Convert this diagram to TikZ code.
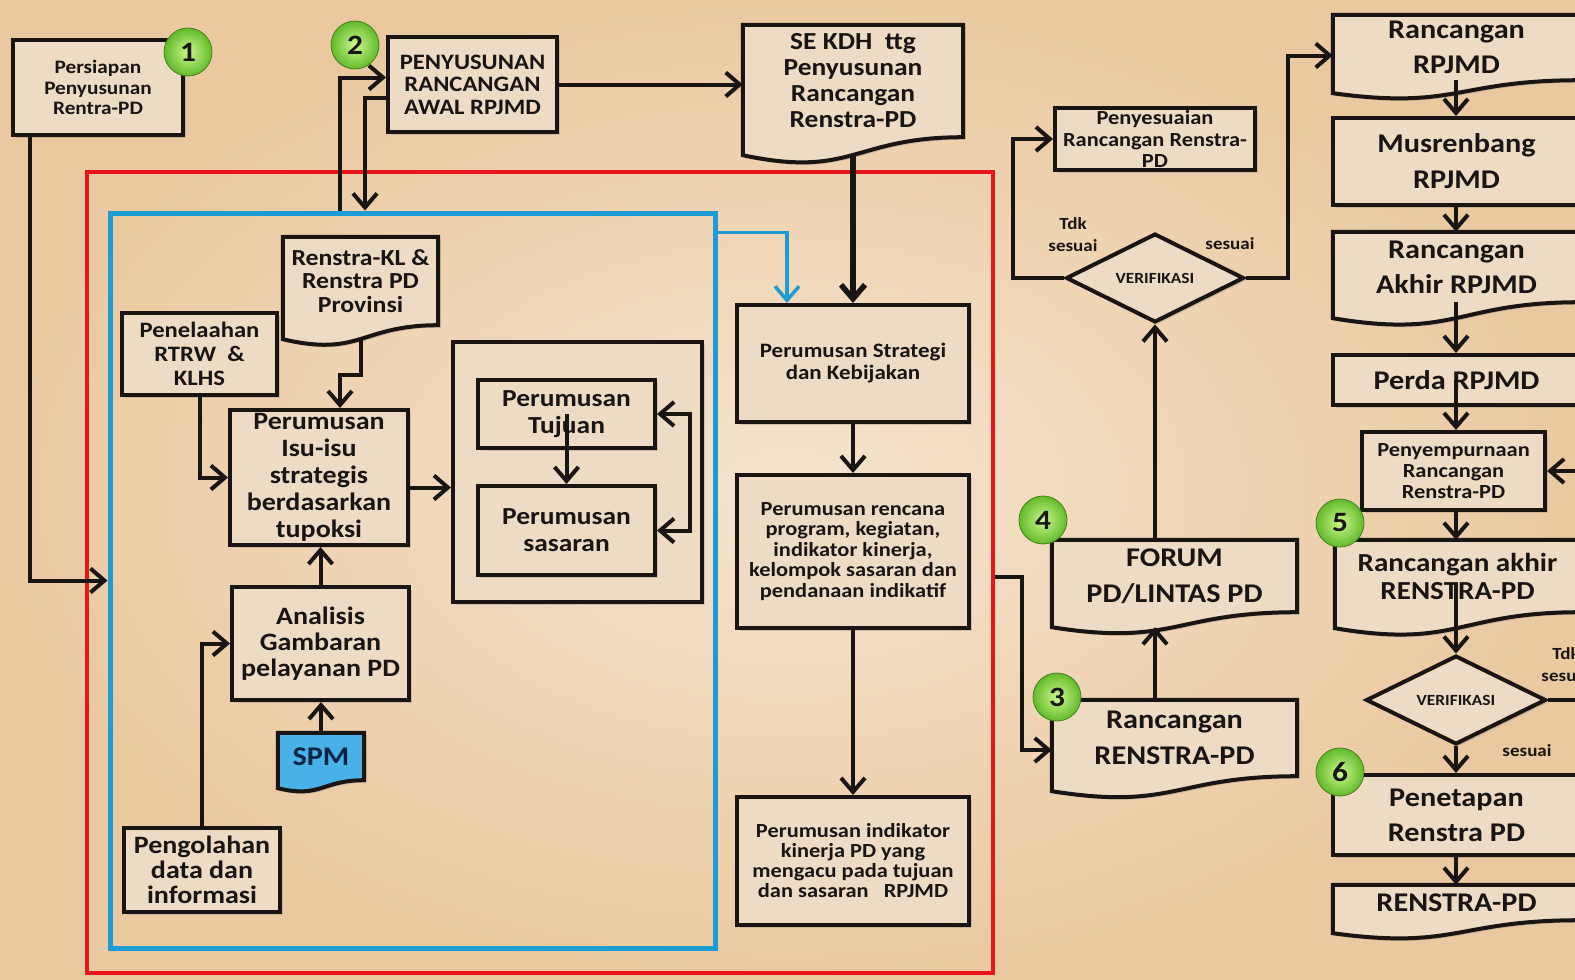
\documentclass[tikz,border=0pt]{standalone}
\usepackage{fontspec}
\setmainfont{Carlito}[FakeStretch=1.12]
\usetikzlibrary{arrows.meta,calc,shapes.geometric,shadows}
\pgfdeclarelayer{bgl}
\pgfdeclarelayer{docl}
\pgfsetlayers{bgl,docl,main}
\definecolor{bgin}{RGB}{246,228,206}
\definecolor{bgout}{RGB}{234,201,160}
\definecolor{boxfill}{RGB}{238,219,195}
\definecolor{ink}{RGB}{24,21,19}
\definecolor{redframe}{RGB}{232,22,26}
\definecolor{blueframe}{RGB}{28,156,210}
\definecolor{spmfill}{RGB}{72,178,232}
\definecolor{spmtext}{RGB}{12,36,70}
\definecolor{gin}{RGB}{205,248,140}
\definecolor{gout}{RGB}{98,186,42}
\newcommand\fs[2]{\fontsize{#1}{#2}\selectfont}
\newcommand\docshape[3][boxfill]{%
  \path[dline, fill=#1] (#2.north west) -- (#2.north east) -- (#2.south east)
    .. controls (#2.south) and ($(#2.south)+(0,2.3*#3)$) .. ($(#2.south west)+(0,#3)$) -- cycle;
  \coordinate (#2-b) at ($(#2.south)+(0,#3)$);}
\tikzset{
  shad/.style={drop shadow={shadow xshift=2.5pt,shadow yshift=-2.5pt,opacity=.3}},
  rbox/.style={rectangle, draw=ink, line width=4pt, fill=boxfill, inner sep=0pt, align=center, text=ink, shad},
  dnode/.style={rectangle, inner sep=0pt, align=center, text=ink},
  dline/.style={draw=ink, line width=4pt, shad},
  dia/.style={diamond, draw=ink, line width=4pt, fill=boxfill, inner sep=0pt, text=ink, font=\bfseries\fs{15.5}{17}, shad},
  tip/.tip={Straight Barb[length=14pt,width=24pt]},
  arr/.style={draw=ink, line width=4pt, -tip},
  arrblue/.style={draw=blueframe, line width=3.5pt, -tip},
  plainline/.style={draw=ink, line width=4pt},
  num/.style={circle, minimum size=48pt, inner sep=0pt, inner color=gin, outer color=gout, draw=gout!70!black, line width=0.8pt, text=ink, font=\bfseries\fs{28}{28}},
  lbl/.style={align=center, text=ink, font=\bfseries\fs{17}{22}},
}
\begin{document}
\begin{tikzpicture}[x=1pt,y=-1pt]
\useasboundingbox (0,0) rectangle (1575,980);
\begin{pgfonlayer}{bgl}
\shade[inner color=bgin, outer color=bgout] (-5,-5) rectangle (1580,985);
\end{pgfonlayer}
\clip (0,0) rectangle (1575,980);
% bend coordinates
\coordinate (x340) at (340,0);
\coordinate (x365) at (365,0);
\coordinate (x787) at (787,0);
\coordinate (x690) at (690,0);
\coordinate (x1013) at (1013,0);
\coordinate (x1155) at (1155,0);
\coordinate (x1288) at (1288,0);
\coordinate (x1600) at (1600,0);
\coordinate (xc) at (1456,0);
\coordinate (y375) at (0,375);
\coordinate (j1) at (1022,577);
% frames
\node[draw=redframe, line width=3.5pt, minimum width=906pt, minimum height=801pt, inner sep=0pt] (red) at (540,572.5) {};
\node[draw=blueframe, line width=5pt, minimum width=605pt, minimum height=735pt, inner sep=0pt] (blue) at (412.5,580.5) {};
% rectangles
\node[rbox, minimum width=170pt, minimum height=95pt, font=\bfseries\fs{19}{20.5}] (box1) at (98,87.5) {Persiapan\\Penyusunan\\Rentra-PD};
\node[rbox, minimum width=169pt, minimum height=95pt, font=\bfseries\fs{22}{22.5}] (pen) at (472.5,84.5) {PENYUSUNAN\\RANCANGAN\\AWAL RPJMD};
\node[rbox, minimum width=232pt, minimum height=117pt, font=\bfseries\fs{20.5}{22}] (strat) at (853,363.5) {Perumusan Strategi\\dan Kebijakan};
\node[rbox, minimum width=232pt, minimum height=153pt, font=\bfseries\fs{20}{20.5}] (renc) at (853,551.5) {Perumusan rencana\\program, kegiatan,\\indikator kinerja,\\kelompok sasaran dan\\pendanaan indikatif};
\node[rbox, minimum width=232pt, minimum height=128pt, font=\bfseries\fs{20}{20}] (indik) at (853,861) {Perumusan indikator\\kinerja PD yang\\mengacu pada tujuan\\dan sasaran\ \ \ RPJMD};
\node[rbox, minimum width=155pt, minimum height=82pt, font=\bfseries\fs{22}{24}] (penel) at (199.5,354) {Penelaahan\\RTRW\ \ \&\\KLHS};
\node[rbox, minimum width=178pt, minimum height=135pt, font=\bfseries\fs{25}{27}] (isu) at (319,477.5) {Perumusan\\Isu-isu\\strategis\\berdasarkan\\tupoksi};
\node[rbox, minimum width=249pt, minimum height=260pt] (big) at (577.5,472) {};
\node[rbox, minimum width=177pt, minimum height=68pt, font=\bfseries\fs{24.5}{27}] (tuj) at (566.5,414) {Perumusan\\Tujuan};
\node[rbox, minimum width=177pt, minimum height=89pt, font=\bfseries\fs{24.5}{27}] (sas) at (566.5,530.5) {Perumusan\\sasaran};
\node[rbox, minimum width=177pt, minimum height=113pt, font=\bfseries\fs{25}{26}] (anal) at (320.5,643.5) {Analisis\\Gambaran\\pelayanan PD};
\node[rbox, minimum width=156pt, minimum height=84pt, font=\bfseries\fs{25}{25}] (pengo) at (202,870) {Pengolahan\\data dan\\informasi};
\node[rbox, minimum width=200pt, minimum height=62pt, font=\bfseries\fs{20}{21.5}] (penyes) at (1155,139) {Penyesuaian\\Rancangan Renstra-\\PD};
\node[rbox, minimum width=247pt, minimum height=87pt, font=\bfseries\fs{27}{36}] (musren) at (1456.5,161.5) {Musrenbang\\RPJMD};
\node[rbox, minimum width=247pt, minimum height=50pt, font=\bfseries\fs{27}{30}] (perda) at (1456.5,380) {Perda RPJMD};
\node[rbox, minimum width=183pt, minimum height=78pt, font=\bfseries\fs{20}{21}] (penyem) at (1453.5,471) {Penyempurnaan\\Rancangan\\Renstra-PD};
\node[rbox, minimum width=247pt, minimum height=80pt, font=\bfseries\fs{27}{35}] (penet) at (1456.5,815) {Penetapan\\Renstra PD};
% document-shaped nodes (text only, shape drawn on layer)
\node[dnode, minimum width=220pt, minimum height=112pt, font=\bfseries\fs{24.5}{26}] (se) at (853,81) {SE KDH\ \ ttg\\Penyusunan\\Rancangan\\Renstra-PD};
\node[dnode, minimum width=155pt, minimum height=88pt, font=\bfseries\fs{23}{23.5}] (renkl) at (360.5,281) {Renstra-KL \&\\Renstra PD\\Provinsi};
\node[dnode, minimum width=86pt, minimum height=47pt, font=\bfseries\fs{27}{27}, text=spmtext] (spm) at (321,756.5) {SPM};
\node[dnode, minimum width=245pt, minimum height=72pt, font=\bfseries\fs{27}{36}] (forum) at (1174.5,576) {FORUM\\PD/LINTAS PD};
\node[dnode, minimum width=245pt, minimum height=76pt, font=\bfseries\fs{27}{36}] (rrenstra) at (1174.5,738) {Rancangan\\RENSTRA-PD};
\node[dnode, minimum width=247pt, minimum height=65pt, font=\bfseries\fs{27}{35}] (rrpjmd) at (1456.5,47.5) {Rancangan\\RPJMD};
\node[dnode, minimum width=247pt, minimum height=70pt, font=\bfseries\fs{27}{35}] (rakhir) at (1456.5,267) {Rancangan\\Akhir RPJMD};
\node[dnode, minimum width=245pt, minimum height=72pt, font=\bfseries\fs{26}{28}] (rakrenstra) at (1457.5,576) {Rancangan akhir\\RENSTRA-PD};
\node[dnode, minimum width=247pt, minimum height=35pt, font=\bfseries\fs{27}{30}] (renstrapd) at (1456.5,902.5) {RENSTRA-PD};
\begin{pgfonlayer}{docl}
\docshape{se}{18}
\docshape{renkl}{14}
\docshape[spmfill]{spm}{8}
\docshape{forum}{15}
\docshape{rrenstra}{15}
\docshape{rrpjmd}{13}
\docshape{rakhir}{16}
\docshape{rakrenstra}{16}
\docshape{renstrapd}{13}
\end{pgfonlayer}
% diamonds
\node[dia, minimum width=178pt, minimum height=80pt] (ver1) at (1155,278) {VERIFIKASI};
\node[dia, minimum width=180pt, minimum height=80pt] (ver2) at (1456,700) {VERIFIKASI};
% labels
\node[lbl] (tdk1) at (1073,235) {Tdk\\sesuai};
\node[lbl] (ses1) at (1230,244) {sesuai};
\node[lbl] (tdk2) at (1566,665) {Tdk\\sesuai};
\node[lbl] (ses2) at (1527,751) {sesuai};
% connectors
\draw[arr] ([xshift=19pt]box1.south west) |- (blue.west);
\draw[arr] (blue.north -| x340) |- ([yshift=7pt]pen.west);
\draw[arr] ([yshift=-13pt]pen.west) -| (blue.north -| x365);
\draw[arr] (pen.east) -- (pen.east -| se.west);
\draw[arr, line width=5.5pt] (se-b) -- (strat.north);
\draw[arrblue] ([yshift=-22pt]blue.north east) -| (strat.north -| x787);
\draw[arr] (strat.south) -- (renc.north);
\draw[arr] (renc.south) -- (indik.north);
\draw[arr] (red.east |- j1) -- (j1) |- ([yshift=-12pt]rrenstra.west);
\draw[arr] (rrenstra.north -| x1155) -- (forum-b -| x1155);
\draw[arr] (forum.north -| x1155) -- (ver1.south);
\draw[arr] (ver1.west) -- (ver1.west -| x1013) |- (penyes.west);
\draw[arr] (ver1.east) -- (ver1.east -| x1288) |- ([yshift=-8pt]rrpjmd.west);
\draw[arr] (rrpjmd.south -| xc) -- (musren.north -| xc);
\draw[arr] (musren.south -| xc) -- (rakhir.north -| xc);
\draw[arr] (rakhir.south -| xc) -- (perda.north -| xc);
\draw[arr] (perda.center -| xc) -- (penyem.north -| xc);
\draw[arr] (penyem.east -| x1600) -- (penyem.east);
\draw[arr] (penyem.south -| xc) -- (rakrenstra.north -| xc);
\draw[arr] ([yshift=-8pt]rakrenstra.center -| xc) -- (ver2.north);
\draw[plainline] (ver2.east) -- (ver2.east -| x1600);
\draw[arr] (ver2.south) -- (penet.north -| xc);
\draw[arr] (penet.south -| xc) -- (renstrapd.north -| xc);
\draw[arr] (renkl-b) -- (renkl-b |- y375) -| (isu.north -| x340);
\draw[arr] (penel.south) |- (isu.west);
\draw[arr] ([yshift=-10pt]isu.east) -- ([yshift=-10pt]isu.east -| big.west);
\draw[arr] (tuj.center) -- (sas.north);
\draw[draw=ink, line width=4pt, tip-tip] (tuj.east) -- (tuj.east -| x690) |- (sas.east);
\draw[arr] (anal.north) -- (anal.north |- isu.south);
\draw[arr] (spm.north) -- (spm.north |- anal.south);
\draw[arr] (pengo.north) |- (anal.west);
% numbered circles
\node[num] (c1) at (188,52) {1};
\node[num] (c2) at (355,45) {2};
\node[num] (c3) at (1057,697) {3};
\node[num] (c4) at (1043,520) {4};
\node[num] (c5) at (1340,523) {5};
\node[num] (c6) at (1340,772) {6};
\end{tikzpicture}
\end{document}
